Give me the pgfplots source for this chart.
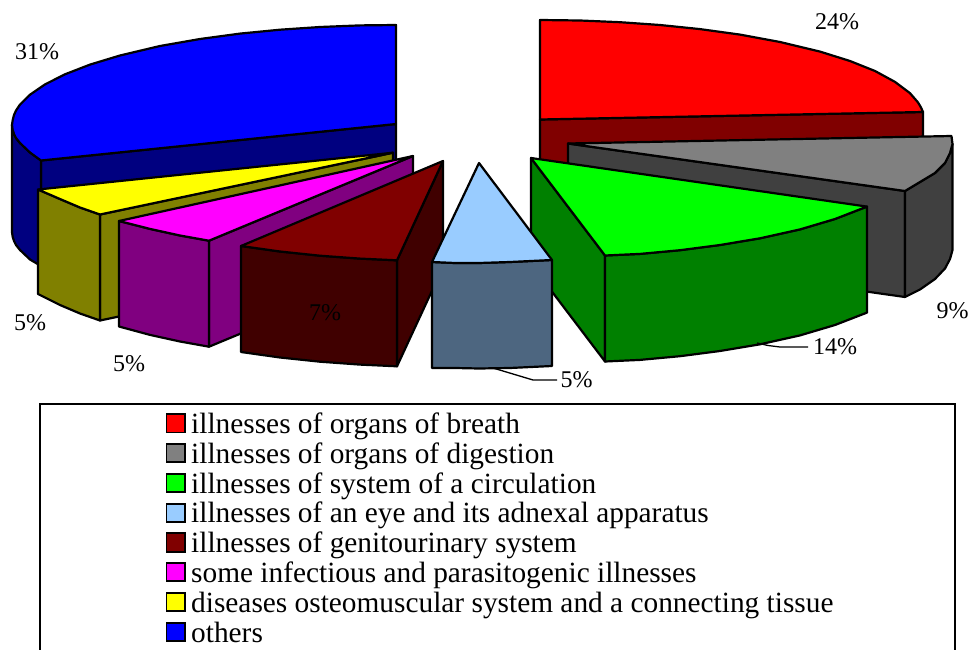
\documentclass[border=0pt]{standalone}
\usepackage{fontspec}
\setmainfont{Liberation Serif}
\usepackage{pgfplots}
\pgfplotsset{compat=1.18}
\definecolor{navyd}{HTML}{000080}
\definecolor{bluet}{HTML}{0000FF}
\definecolor{redt}{HTML}{FF0000}
\definecolor{greent}{HTML}{00FF00}
\definecolor{yellowt}{HTML}{FFFF00}
\definecolor{magentat}{HTML}{FF00FF}
\definecolor{maroond}{HTML}{800000}
\definecolor{maroonx}{HTML}{400000}
\definecolor{olived}{HTML}{808000}
\definecolor{purpled}{HTML}{800080}
\definecolor{grayt}{HTML}{808080}
\definecolor{grayd}{HTML}{404040}
\definecolor{greend}{HTML}{008000}
\definecolor{skyt}{HTML}{99CCFF}
\definecolor{skyd}{HTML}{4D6680}
\pgfplotsset{
  slice/.style={draw=black, line width=2.2pt, line join=round, mark=none, fill=#1},
  swatch/.style={draw=black, line width=1.9pt, line join=miter, mark=none, fill=#1},
  leader/.style={draw=black, line width=1.3pt, mark=none},
}
\begin{document}
\begin{tikzpicture}
\path[use as bounding box] (0,0) rectangle (969pt,650pt);
\begin{axis}[
  at={(0,0)}, anchor=south west,
  width=969pt, height=650pt, scale only axis,
  xmin=0, xmax=969, ymin=0, ymax=650, y dir=reverse,
  axis lines=none,
]
% others
\addplot[slice=navyd] coordinates {(396,124) (41,160.5) (41,265) (396,260)} -- cycle;
\addplot[slice=navyd] coordinates {(12,125) (12.7,130) (14,134) (16,138) (20,143) (30,152.5) (41,160.5) (41,266) (30,259.5) (20,250) (16,245) (14,241) (12.7,237) (12,232)} -- cycle;
\addplot[slice=bluet] coordinates {(396,124) (396,25) (360,25.4) (320,27) (280,29.7) (240,33.6) (200,39) (160,46) (120,55.5) (90,64.6) (65,74.3) (45,84.4) (30,94.7) (20,104.6) (16,110.6) (14,115) (12.7,120) (12,125) (12.7,130) (14,134) (16,138) (20,143) (30,152.5) (41,160.5)} -- cycle;
% breath
\addplot[slice=maroond] coordinates {(540,119.5) (923,112) (923,218) (540,225)} -- cycle;
\addplot[slice=redt] coordinates {(540,119.5) (540,20) (580,20.5) (620,22.2) (660,25) (700,29.1) (740,34.6) (780,42) (820,51.6) (850,61) (875,71) (895,81.9) (910,93.2) (918,102.4) (921,107.5) (923,112)} -- cycle;
% digestion
\addplot[slice=grayd] coordinates {(568,143.5) (905,191) (905,297) (568,249.5)} -- cycle;
\addplot[slice=grayd] coordinates {(905,191) (920,182) (935,173) (945,163) (950,153) (952.5,144) (952.5,250) (950,259) (945,268.5) (935,279) (920,289.5) (905,297)} -- cycle;
\addplot[slice=grayt] coordinates {(568,143.5) (951.5,136) (952.5,144) (950,153) (945,163) (935,173) (920,182) (905,191)} -- cycle;
% circulation
\addplot[slice=greend] coordinates {(531,158) (605,255.5) (605,361.5) (531,264)} -- cycle;
\addplot[slice=greend] coordinates {(605,255.5) (640,253.9) (680,250.2) (720,245) (760,238.3) (800,229.4) (835,219) (867,206.6) (867,312.6) (835,325) (800,335.4) (760,344.3) (720,351) (680,356.2) (640,359.9) (605,361.5)} -- cycle;
\addplot[slice=greent] coordinates {(531,158) (867,206.6) (835,219) (800,229.4) (760,238.3) (720,245) (680,250.2) (640,253.9) (605,255.5)} -- cycle;
% diseases
\addplot[slice=olived] coordinates {(393,152.7) (100,214.5) (100,320.5) (393,258.7)} -- cycle;
\addplot[slice=olived] coordinates {(38,189.5) (60,199) (80,207.5) (100,214.5) (100,320.5) (80,313.5) (60,305) (38,294)} -- cycle;
\addplot[slice=yellowt] coordinates {(393,152.7) (38,189.5) (60,199) (80,207.5) (100,214.5)} -- cycle;
% infectious
\addplot[slice=purpled] coordinates {(413,156) (209,240.7) (209,346.7) (413,262)} -- cycle;
\addplot[slice=purpled] coordinates {(119,221) (150,228.9) (180,235.5) (209,240.7) (209,346.7) (180,341.5) (150,334.9) (119,326.5)} -- cycle;
\addplot[slice=magentat] coordinates {(413,156) (119,221) (150,228.9) (180,235.5) (209,240.7)} -- cycle;
% genitourinary
\addplot[slice=maroonx] coordinates {(443,161) (397,260.3) (397,366.3) (443,267)} -- cycle;
\addplot[slice=maroonx] coordinates {(241,246) (280,251.5) (320,255.7) (360,258.6) (397,260.3) (397,366.3) (360,364.6) (320,361.7) (280,357.5) (241,352)} -- cycle;
\addplot[slice=maroond] coordinates {(443,161) (241,246) (280,251.5) (320,255.7) (360,258.6) (397,260.3)} -- cycle;
% eye
\addplot[slice=skyd] coordinates {(432,262) (455,263) (479,263) (510,262) (552,260) (552,366) (510,368) (479,368.5) (455,368) (432,368)} -- cycle;
\addplot[slice=skyt] coordinates {(479,163) (432,262) (455,263) (479,263) (510,262) (552,260)} -- cycle;
% leaders
\addplot[leader] coordinates {(757,343) (768,345.5) (780,347) (808,347)};
\addplot[leader] coordinates {(493,368) (533,380) (557,380)};
% legend box and keys
\addplot[draw=black, line width=2.2pt, fill=white, mark=none] coordinates {(40,404) (955,404) (955,660) (40,660)} -- cycle;
\addplot[swatch=redt] coordinates {(166.5,414.3) (184.8,414.3) (184.8,432.5) (166.5,432.5)} -- cycle;
\addplot[swatch=grayt] coordinates {(166.5,444.2) (184.8,444.2) (184.8,462.4) (166.5,462.4)} -- cycle;
\addplot[swatch=greent] coordinates {(166.5,474) (184.8,474) (184.8,492.2) (166.5,492.2)} -- cycle;
\addplot[swatch=skyt] coordinates {(166.5,503.7) (184.8,503.7) (184.8,521.9) (166.5,521.9)} -- cycle;
\addplot[swatch=maroond] coordinates {(166.5,533.4) (184.8,533.4) (184.8,551.6) (166.5,551.6)} -- cycle;
\addplot[swatch=magentat] coordinates {(166.5,563.2) (184.8,563.2) (184.8,581.4) (166.5,581.4)} -- cycle;
\addplot[swatch=yellowt] coordinates {(166.5,592.9) (184.8,592.9) (184.8,611.1) (166.5,611.1)} -- cycle;
\addplot[swatch=bluet] coordinates {(166.5,622.7) (184.8,622.7) (184.8,640.9) (166.5,640.9)} -- cycle;
% labels
\foreach \x/\y/\t in {37/52/31\%, 837/22/24\%, 952.5/311/9\%, 835/347/14\%, 576.5/380/5\%, 30/323/5\%, 129/364/5\%, 325/313/7\%}{
  \edef\temp{\noexpand\node[font=\noexpand\fontsize{24}{26}\noexpand\selectfont, inner sep=0pt] at (axis cs:\x,\y) {\t};}
  \temp
}
\foreach \y/\t in {
  433.5/illnesses of organs of breath,
  463.3/illnesses of organs of digestion,
  493.1/illnesses of system of a circulation,
  522.9/illnesses of an eye and its adnexal apparatus,
  552.7/illnesses of genitourinary system,
  582.5/some infectious and parasitogenic illnesses,
  612.3/diseases osteomuscular system and a connecting tissue,
  642/others}{
  \edef\temp{\noexpand\node[font=\noexpand\fontsize{29.35}{31}\noexpand\selectfont, inner sep=0pt, anchor=base west] at (axis cs:191,\y) {\t};}
  \temp
}
\end{axis}
\end{tikzpicture}
\end{document}
